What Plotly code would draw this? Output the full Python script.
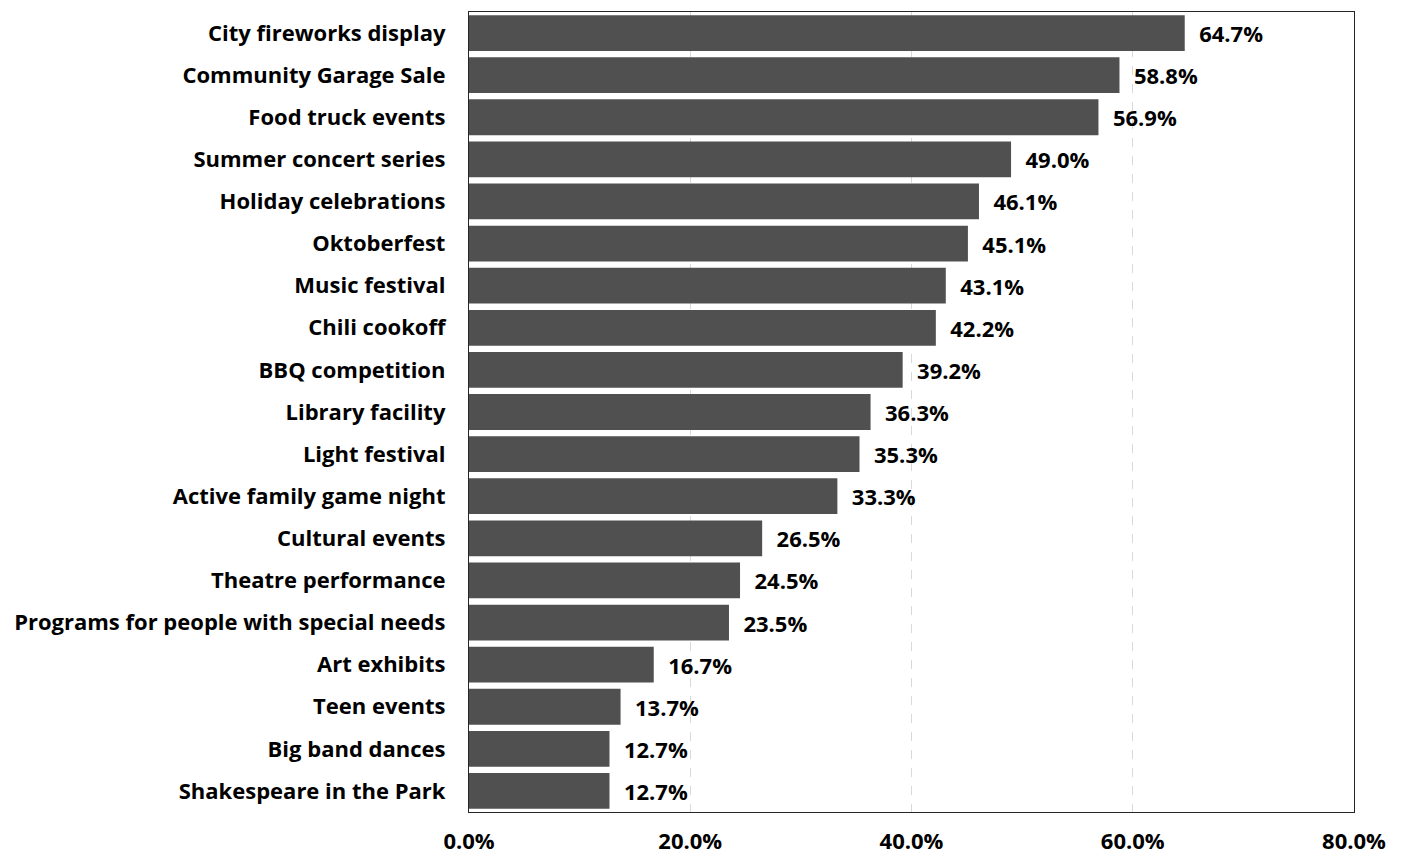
import plotly.graph_objects as go

# Share of respondents interested in each community event (%)
events = [
    "City fireworks display",
    "Community Garage Sale",
    "Food truck events",
    "Summer concert series",
    "Holiday celebrations",
    "Oktoberfest",
    "Music festival",
    "Chili cookoff",
    "BBQ competition",
    "Library facility",
    "Light festival",
    "Active family game night",
    "Cultural events",
    "Theatre performance",
    "Programs for people with special needs",
    "Art exhibits",
    "Teen events",
    "Big band dances",
    "Shakespeare in the Park",
]
shares = [64.7, 58.8, 56.9, 49.0, 46.1, 45.1, 43.1, 42.2, 39.2, 36.3,
          35.3, 33.3, 26.5, 24.5, 23.5, 16.7, 13.7, 12.7, 12.7]
tick_values = [0, 20, 40, 60, 80]
tick_labels = ["0.0%", "20.0%", "40.0%", "60.0%", "80.0%"]

FONT = "'Open Sans', sans-serif"
SIZE = 22

fig = go.Figure(
    go.Bar(
        x=shares,
        y=events,
        orientation="h",
        marker=dict(color="#505050", line=dict(width=0)),
        texttemplate="\u00a0\u00a0%{x:.1f}%",
        textposition="outside",
        textfont=dict(family=FONT, size=SIZE, color="#000000", weight=700),
        cliponaxis=False,
        hoverinfo="skip",
    )
)

fig.update_layout(
    width=1408,
    height=857,
    margin=dict(l=469, r=54, t=12, b=45),
    paper_bgcolor="#ffffff",
    plot_bgcolor="#ffffff",
    bargap=0.15,
    showlegend=False,
    font=dict(family=FONT, size=SIZE, color="#000000", weight=700),
)

fig.update_xaxes(
    range=[0, 80],
    tickmode="array",
    tickvals=tick_values,
    ticktext=tick_labels,
    automargin=False,
    showgrid=True,
    gridcolor="#d9d9d9",
    griddash="dash",
    gridwidth=1,
    zeroline=False,
    showline=True,
    linecolor="#262626",
    linewidth=1.3,
    mirror=True,
    ticks="",
    ticklabelstandoff=9,
    tickfont=dict(family=FONT, size=SIZE, color="#000000", weight=700),
)

fig.update_yaxes(
    categoryorder="array",
    categoryarray=events[::-1],
    automargin=False,
    showgrid=False,
    showline=True,
    linecolor="#262626",
    linewidth=1.3,
    mirror=True,
    ticks="",
    ticklabelstandoff=18,
    tickfont=dict(family=FONT, size=SIZE, color="#000000", weight=700),
)

fig.write_html("out.html")
